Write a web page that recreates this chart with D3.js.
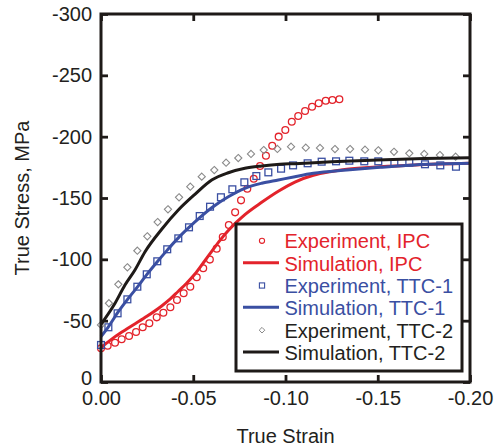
<!DOCTYPE html>
<html>
<head>
<meta charset="utf-8">
<script src="https://cdn.jsdelivr.net/npm/d3@7"></script>
<style>
  html, body { margin: 0; padding: 0; background: #fff; }
  svg { display: block; font-family: "Liberation Sans", Arial, sans-serif; }
</style>
</head>
<body>
<svg id="chart" width="494" height="448"></svg>
<script>
// ---- data (strain, stress) ----
const expIPC_strain = [0,-0.0036,-0.0076,-0.0112,-0.0152,-0.019,-0.0226,-0.0262,-0.0302,-0.0338,-0.0376,-0.0412,-0.0448,-0.0484,-0.0519,-0.0554,-0.059,-0.0627,-0.066,-0.0693,-0.0727,-0.0759,-0.0793,-0.0828,-0.0862,-0.0894,-0.0928,-0.0963,-0.0999,-0.1034,-0.1069,-0.1106,-0.1144,-0.118,-0.1218,-0.1254,-0.1292];
const expIPC_stress = [-27.5,-29.6,-32.0,-34.8,-37.5,-40.8,-44.6,-47.9,-52.7,-56.5,-60.9,-66.8,-72.3,-77.7,-85.4,-92.7,-99.8,-108.7,-118.2,-128,-138.3,-148.1,-157.6,-165.7,-176.1,-184.5,-192.6,-200,-205.4,-212.2,-216.8,-220.9,-224.4,-227.2,-229.3,-229.9,-230.5];

const simIPC_strain = [0,-0.0076,-0.0148,-0.0238,-0.0329,-0.0374,-0.0419,-0.0464,-0.0509,-0.0554,-0.060,-0.0645,-0.069,-0.0736,-0.078,-0.0871,-0.0961,-0.1051,-0.1151,-0.1241,-0.1332,-0.1512,-0.17,-0.20];
const simIPC_stress = [-28,-37,-44,-52.5,-62,-67.5,-74,-80.5,-88,-97,-106.5,-115.5,-123.5,-130.5,-136.5,-146.5,-155.5,-163,-168.5,-171.4,-173.4,-175.5,-177,-178.3];

const expTTC1_strain = [0,-0.004,-0.009,-0.0143,-0.0197,-0.0248,-0.0305,-0.0359,-0.0419,-0.0477,-0.0535,-0.0591,-0.065,-0.0712,-0.0777,-0.0842,-0.0907,-0.0976,-0.1041,-0.112,-0.1196,-0.1274,-0.1346,-0.1427,-0.1503,-0.159,-0.1671,-0.1756,-0.1839,-0.1924];
const expTTC1_stress = [-30.2,-44.6,-56,-67.4,-77.7,-87.8,-98.4,-108.2,-117.1,-126.1,-135.3,-142.9,-150.6,-157.1,-162.8,-167.9,-170.9,-173.9,-176.6,-178.3,-179.6,-179.9,-180.4,-179.9,-179.9,-178.8,-178.8,-177.5,-176.6,-175.5];

const simTTC1_strain = [0,-0.004,-0.0094,-0.0148,-0.0202,-0.0248,-0.0305,-0.0359,-0.0419,-0.0477,-0.0535,-0.060,-0.069,-0.078,-0.0871,-0.0961,-0.1051,-0.1151,-0.1332,-0.1512,-0.17,-0.20];
const simTTC1_stress = [-37,-45,-57.3,-68.2,-78.3,-87.5,-98,-107.5,-117.5,-126,-134,-142,-151,-157.9,-162,-164.7,-167.4,-170.1,-172.8,-175,-177,-178.3];

const expTTC2_strain = [0,-0.0043,-0.0094,-0.0143,-0.0197,-0.0251,-0.0307,-0.0363,-0.0423,-0.0484,-0.0546,-0.0614,-0.0678,-0.0744,-0.0813,-0.0882,-0.0956,-0.103,-0.111,-0.1187,-0.1268,-0.135,-0.1431,-0.1503,-0.1588,-0.1671,-0.1752,-0.1837,-0.1922];
const expTTC2_stress = [-46.5,-64.2,-79.6,-93.5,-107,-118.8,-130.4,-140.8,-150.6,-159.2,-167.4,-172.8,-178.8,-182.6,-185.9,-189.1,-190,-191.8,-191,-190.8,-189.9,-189.9,-189.4,-188.9,-187.7,-186.4,-185.9,-185,-183.7];

const simTTC2_strain = [0,-0.0076,-0.013,-0.0184,-0.0238,-0.0329,-0.0419,-0.0509,-0.060,-0.069,-0.078,-0.0871,-0.097,-0.1051,-0.125,-0.15,-0.175,-0.20];
const simTTC2_stress = [-47,-64.2,-79.1,-91.3,-106,-124.5,-140.2,-153,-164.7,-170.6,-174.2,-176.1,-177.5,-178,-179.5,-181,-182.2,-182.8];

const xTicks = [0, -0.05, -0.10, -0.15, -0.20];
const xTickLabels = ["0.00", "-0.05", "-0.10", "-0.15", "-0.20"];
const yTicks = [0, -50, -100, -150, -200, -250, -300];
const yTickLabels = ["0", "-50", "-100", "-150", "-200", "-250", "-300"];

const legendLabels = ["Experiment, IPC", "Simulation, IPC", "Experiment, TTC-1", "Simulation, TTC-1", "Experiment, TTC-2", "Simulation, TTC-2"];

// ---- style ----
const RED = "#e3232b", BLUE = "#3a4fa2", BLACK = "#1e1a18", GRAY = "#8a8a8a";

const svg = d3.select("#chart");
const L = 101, R = 470, T = 14, B = 382;
const x = d3.scaleLinear().domain([0, -0.20]).range([L, R]);
const y = d3.scaleLinear().domain([0, -300]).range([B, T]);

const zip = (a, b) => a.map((v, i) => [v, b[i]]);
const line = d3.line().x(d => x(d[0])).y(d => y(d[1])).curve(d3.curveMonotoneX);

const gData = svg.append("g");

function drawCircles(pts, color) {
  gData.append("g").selectAll("circle").data(pts).join("circle")
    .attr("cx", d => x(d[0])).attr("cy", d => y(d[1])).attr("r", 3.4)
    .attr("fill", "none").attr("stroke", color).attr("stroke-width", 1.3);
}
function drawSquares(pts, color) {
  gData.append("g").selectAll("rect").data(pts).join("rect")
    .attr("x", d => x(d[0]) - 3.4).attr("y", d => y(d[1]) - 3.4)
    .attr("width", 6.8).attr("height", 6.8)
    .attr("fill", "none").attr("stroke", color).attr("stroke-width", 1.3);
}
function drawDiamonds(pts, color) {
  gData.append("g").selectAll("path").data(pts).join("path")
    .attr("d", d => { const cx = x(d[0]), cy = y(d[1]), s = 3.6;
      return `M${cx},${cy - s}L${cx + s},${cy}L${cx},${cy + s}L${cx - s},${cy}Z`; })
    .attr("fill", "none").attr("stroke", color).attr("stroke-width", 1.1);
}
function drawLine(pts, color) {
  gData.append("path").datum(pts).attr("d", line)
    .attr("fill", "none").attr("stroke", color).attr("stroke-width", 3);
}

drawCircles(zip(expIPC_strain, expIPC_stress), RED);
drawLine(zip(simIPC_strain, simIPC_stress), RED);
drawSquares(zip(expTTC1_strain, expTTC1_stress), BLUE);
drawLine(zip(simTTC1_strain, simTTC1_stress), BLUE);
drawDiamonds(zip(expTTC2_strain, expTTC2_stress), GRAY);
drawLine(zip(simTTC2_strain, simTTC2_stress), BLACK);

// ---- axes ----
const axisFont = 20;
const xAxis = svg.append("g").attr("transform", `translate(0,${B})`)
  .call(d3.axisBottom(x).tickValues(xTicks).tickFormat((d, i) => xTickLabels[i])
    .tickSizeInner(-7).tickSizeOuter(0).tickPadding(9));
const xAxisTop = svg.append("g").attr("transform", `translate(0,${T})`)
  .call(d3.axisTop(x).tickValues(xTicks).tickFormat("").tickSizeInner(-7).tickSizeOuter(0));
const yAxis = svg.append("g").attr("transform", `translate(${L},0)`)
  .call(d3.axisLeft(y).tickValues(yTicks).tickFormat((d, i) => yTickLabels[i])
    .tickSizeInner(-7).tickSizeOuter(0).tickPadding(9));
const yAxisRight = svg.append("g").attr("transform", `translate(${R},0)`)
  .call(d3.axisRight(y).tickValues(yTicks).tickFormat("").tickSizeInner(-7).tickSizeOuter(0));

[xAxis, xAxisTop, yAxis, yAxisRight].forEach(g => {
  g.select(".domain").remove();
  g.selectAll(".tick line").attr("stroke", BLACK).attr("stroke-width", 2.8);
  g.selectAll("text").attr("font-size", axisFont).attr("fill", "#231f20")
    .attr("font-family", "'Liberation Sans', Arial, sans-serif");
});
// lift the "0" label slightly so it clears the "0.00" label, as in the reference
yAxis.selectAll(".tick text").filter(d => d === 0).attr("dy", "0.1em");

svg.append("rect").attr("x", L).attr("y", T).attr("width", R - L).attr("height", B - T)
  .attr("fill", "none").attr("stroke", BLACK).attr("stroke-width", 3);

// titles
svg.append("text").attr("x", (L + R) / 2).attr("y", 443).attr("text-anchor", "middle")
  .attr("font-size", 20).attr("fill", "#231f20").text("True Strain");
svg.append("text").attr("transform", `translate(28.5,${(T + B) / 2}) rotate(-90)`)
  .attr("text-anchor", "middle").attr("font-size", 20).attr("fill", "#231f20").text("True Stress, MPa");

// ---- legend ----
const lg = svg.append("g");
lg.append("rect").attr("x", 236).attr("y", 224).attr("width", 226).attr("height", 147)
  .attr("fill", "#fff").attr("stroke", BLACK).attr("stroke-width", 3);
const legendColors = [RED, RED, BLUE, BLUE, BLACK, BLACK];
const legendTypes = ["circle", "line", "square", "line", "diamond", "line"];
legendLabels.forEach((lab, i) => {
  const base = 248.3 + i * 22.35;
  const cy = base - 7.5;
  const t = legendTypes[i];
  if (t === "line") {
    lg.append("line").attr("x1", 243).attr("x2", 279).attr("y1", base - 8).attr("y2", base - 8)
      .attr("stroke", legendColors[i]).attr("stroke-width", 3);
  } else if (t === "circle") {
    lg.append("circle").attr("cx", 262).attr("cy", cy).attr("r", 2.6)
      .attr("fill", "none").attr("stroke", RED).attr("stroke-width", 1.1);
  } else if (t === "square") {
    lg.append("rect").attr("x", 262 - 2.6).attr("y", cy - 2.6).attr("width", 5.2).attr("height", 5.2)
      .attr("fill", "none").attr("stroke", BLUE).attr("stroke-width", 1.1);
  } else {
    const s = 2.8;
    lg.append("path").attr("d", `M262,${cy - s}L${262 + s},${cy}L262,${cy + s}L${262 - s},${cy}Z`)
      .attr("fill", "none").attr("stroke", GRAY).attr("stroke-width", 1);
  }
  lg.append("text").attr("x", 284.5).attr("y", base).attr("font-size", 20)
    .attr("fill", i < 2 ? RED : (i < 4 ? BLUE : "#231f20")).text(lab);
});
</script>
</body>
</html>
